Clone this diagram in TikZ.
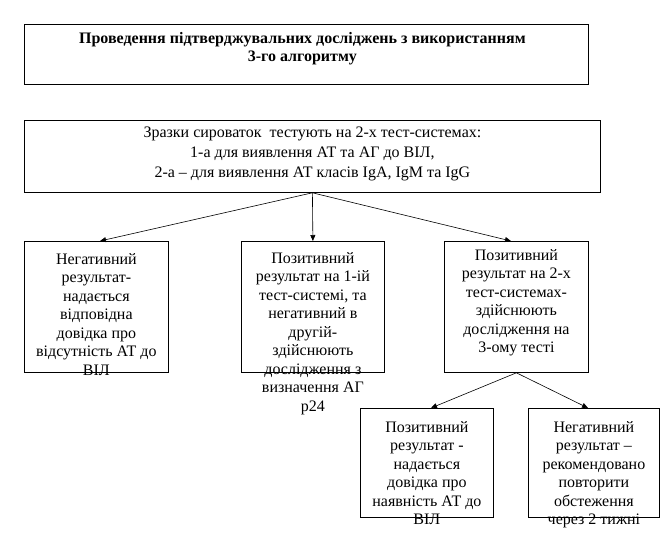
\documentclass[tikz,border=0pt]{standalone}
\usepackage{fontspec}
\setmainfont{Liberation Serif}
\usetikzlibrary{arrows.meta,calc}
\tikzset{
  box/.style={draw, line width=0.8pt, inner sep=0pt, anchor=north west, minimum width=#1},
  box/.default=100pt,
  txt/.style={anchor=north, inner sep=0pt, align=center, font=\fontsize{16}{18.5}\selectfont},
  arr/.style={line width=0.6pt, -{Triangle[length=6pt,width=5pt]}}
}
\newcommand{\fl}{\rule{0pt}{14pt}}
\begin{document}
\begin{tikzpicture}[x=1pt,y=-1pt]
\useasboundingbox (0,0) rectangle (661,541);
% boxes
\node[box=564pt, minimum height=60pt] (T) at (24,24) {};
\node[box=576pt, minimum height=72pt] (S) at (24,120) {};
\node[box=144pt, minimum height=131pt] (A) at (24,241) {};
\node[box=143pt, minimum height=131pt] (B) at (241,241) {};
\node[box=144pt, minimum height=131pt] (C) at (444,241) {};
\node[box=133pt, minimum height=109pt] (D) at (360,408) {};
\node[box=131pt, minimum height=109pt] (E) at (528,408) {};
% texts
\node[txt, font=\bfseries\fontsize{16}{18.6}\selectfont] (tT) at ($(T.north)+(-4,5)$) {\fl Проведення підтверджувальних досліджень з використанням\\3-го алгоритму};
\node[txt, font=\fontsize{16}{20}\selectfont] (tS) at ($(S.north)+(0,3)$) {\fl Зразки сироваток\ \ тестують на 2-х тест-системах:\\1-а для виявлення АТ та АГ до ВІЛ,\\2-а – для виявлення АТ класів IgA, IgM та IgG};
\node[txt] (tA) at ($(A.north)+(0,9)$) {\fl Негативний\\результат-\\надається\\відповідна\\довідка про\\відсутність АТ до\\ВІЛ};
\node[txt] (tB) at ($(B.north)+(0,8)$) {\fl Позитивний\\результат на 1-ій\\тест-системі, та\\негативний в\\другій-\\здійснюють\\дослідження з\\визначення АГ\\р24};
\node[txt] (tC) at ($(C.north)+(0,5)$) {\fl Позитивний\\результат на 2-х\\тест-системах-\\здійснюють\\дослідження на\\3-ому тесті};
\node[txt] (tD) at ($(D.north)+(0,10)$) {\fl Позитивний\\результат -\\надається\\довідка про\\наявність АТ до\\ВІЛ};
\node[txt] (tE) at ($(E.north)+(0,10)$) {\fl Негативний\\результат –\\рекомендовано\\повторити\\обстеження\\через 2 тижні};
% connectors
\draw[arr] (S.south) -- ($(A.north west)+(76,0)$);
\draw[arr] (S.south) -- (B.north);
\draw[arr] (S.south) -- ($(C.north west)+(67,0)$);
\draw[arr] (C.south) -- ($(D.north west)+(71,0)$);
\draw[arr] (C.south) -- ($(E.north west)+(60,0)$);
\end{tikzpicture}
\end{document}
